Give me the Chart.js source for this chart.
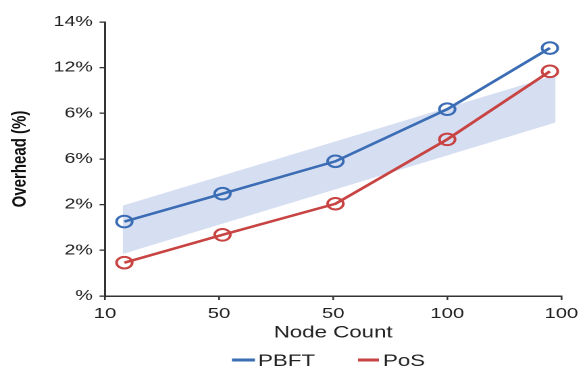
<!DOCTYPE html>
<html>
<head>
<meta charset="utf-8">
<script src="https://cdn.jsdelivr.net/npm/chart.js@4.4.1/dist/chart.umd.min.js"></script>
<style>
  html, body { margin: 0; padding: 0; background: #ffffff; overflow: hidden; }
  #wrap { width: 585px; height: 367px; overflow: hidden; }
  #c { transform: scaleX(1.351); transform-origin: 0 0; display: block; }
</style>
</head>
<body>
<div id="wrap"><canvas id="c" width="433" height="367"></canvas></div>
<script>
// ---- data ----
const xTickLabels = ['10', '50', '50', '100', '100'];
const yTickLabels = ['%', '2%', '2%', '6%', '6%', '12%', '14%'];
const nodeX = [0.17, 1.03, 2.02, 3.0, 3.9];
const pbft = [1.63, 2.24, 2.95, 4.09, 5.43];
const pos = [0.73, 1.34, 2.02, 3.43, 4.92];
const bandX = [0.155, 3.95];
const bandUpper = [1.98, 4.84];
const bandLower = [0.92, 3.80];

const BLUE = '#3b6db5';
const RED = '#c74443';
const FONT = '"Liberation Sans", Arial, Helvetica, sans-serif';

const pts = (xs, ys) => xs.map((x, i) => ({ x: x, y: ys[i] }));

const legendPlugin = {
  id: 'customLegend',
  afterDraw(chart) {
    const ctx = chart.ctx;
    const items = [
      { ds: chart.data.datasets[2], x0: 171.7, x1: 188.7, tx: 191 },
      { ds: chart.data.datasets[3], x0: 265, x1: 280.5, tx: 283.5 }
    ];
    ctx.save();
    ctx.font = '16.5px ' + FONT;
    ctx.textBaseline = 'alphabetic';
    ctx.textAlign = 'left';
    items.forEach(it => {
      ctx.strokeStyle = it.ds.borderColor;
      ctx.lineWidth = 3;
      ctx.beginPath();
      ctx.moveTo(it.x0, 360);
      ctx.lineTo(it.x1, 360);
      ctx.stroke();
      ctx.fillStyle = '#222';
      ctx.fillText(it.ds.label, it.tx, 366);
    });
    ctx.restore();
  }
};

new Chart(document.getElementById('c'), {
  type: 'line',
  data: {
    datasets: [
      { label: 'band-upper', data: pts(bandX, bandUpper), fill: '+1',
        backgroundColor: 'rgba(168,184,228,0.47)', borderWidth: 0, pointRadius: 0, order: 3 },
      { label: 'band-lower', data: pts(bandX, bandLower), fill: false,
        borderWidth: 0, pointRadius: 0, order: 3 },
      { label: 'PBFT', data: pts(nodeX, pbft), borderColor: BLUE, borderWidth: 2.5,
        pointRadius: 5.8, pointBorderWidth: 2, pointBorderColor: BLUE,
        pointBackgroundColor: 'rgba(255,255,255,0)', fill: false, order: 1 },
      { label: 'PoS', data: pts(nodeX, pos), borderColor: RED, borderWidth: 2.5,
        pointRadius: 5.8, pointBorderWidth: 2, pointBorderColor: RED,
        pointBackgroundColor: 'rgba(255,255,255,0)', fill: false, order: 1 }
    ]
  },
  options: {
    responsive: false,
    devicePixelRatio: 2,
    animation: false,
    layout: { padding: { top: 22, right: 11.8, left: 0, bottom: 0 } },
    plugins: { legend: { display: false }, tooltip: { enabled: false } },
    scales: {
      x: {
        type: 'linear', min: 0, max: 4,
        afterFit(s) { s.height = 71; },
        ticks: { stepSize: 1, padding: 5, color: '#222', font: { family: FONT, size: 15 },
                 callback: v => xTickLabels[v] },
        grid: { display: true, drawOnChartArea: false, drawTicks: true, tickLength: 4, color: '#333', lineWidth: 1.3 },
        border: { display: true, color: '#333', width: 1.5 },
        title: { display: true, text: 'Node Count', color: '#222',
                 font: { family: FONT, size: 16.5 }, padding: { top: 0, bottom: 24 } }
      },
      y: {
        type: 'linear', min: 0, max: 6,
        afterFit(s) { s.width = 77.7; },
        ticks: { stepSize: 1, padding: 5, color: '#222', font: { family: FONT, size: 14.5 },
                 callback: v => yTickLabels[v] },
        grid: { display: true, drawOnChartArea: false, drawTicks: true, tickLength: 4, color: '#333', lineWidth: 1.3 },
        border: { display: true, color: '#333', width: 1.5 },
        title: { display: true, text: 'Overhead (%)', color: '#111',
                 font: { family: FONT, size: 15, weight: 'bold' }, padding: { top: 6, bottom: 0 } }
      }
    }
  },
  plugins: [legendPlugin]
});
</script>
</body>
</html>
